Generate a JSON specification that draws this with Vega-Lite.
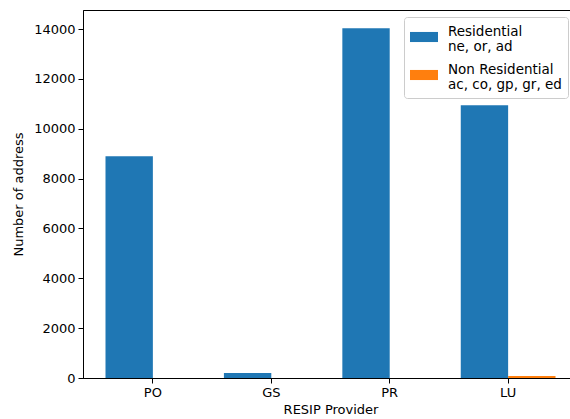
{
  "$schema": "https://vega.github.io/schema/vega-lite/v6.json",
  "width": 495,
  "height": 368,
  "autosize": {"type": "none"},
  "padding": {"left": 83, "top": 10, "right": 0, "bottom": 41},
  "config": {
    "font": "DejaVu Sans",
    "view": {"stroke": "black", "strokeWidth": 1},
    "axis": {
      "labelFont": "DejaVu Sans",
      "titleFont": "DejaVu Sans",
      "labelFontSize": 13,
      "titleFontSize": 13,
      "titleFontWeight": "normal",
      "labelColor": "black",
      "titleColor": "black",
      "domainColor": "black",
      "tickColor": "black",
      "tickSize": 5,
      "grid": false
    }
  },
  "data": {
    "values": [
      {"provider": "PO", "type": "Residential\nne, or, ad", "count": 8900},
      {"provider": "PO", "type": "Non Residential\nac, co, gp, gr, ed", "count": 0},
      {"provider": "GS", "type": "Residential\nne, or, ad", "count": 200},
      {"provider": "GS", "type": "Non Residential\nac, co, gp, gr, ed", "count": 0},
      {"provider": "PR", "type": "Residential\nne, or, ad", "count": 14030},
      {"provider": "PR", "type": "Non Residential\nac, co, gp, gr, ed", "count": 0},
      {"provider": "LU", "type": "Residential\nne, or, ad", "count": 10940},
      {"provider": "LU", "type": "Non Residential\nac, co, gp, gr, ed", "count": 80}
    ]
  },
  "mark": {"type": "bar"},
  "encoding": {
    "x": {
      "field": "provider",
      "type": "nominal",
      "sort": ["PO", "GS", "PR", "LU"],
      "scale": {"paddingInner": 0.2, "paddingOuter": 0.19},
      "axis": {"title": "RESIP Provider", "labelAngle": 0, "labelPadding": 3, "titlePadding": 4}
    },
    "xOffset": {
      "field": "type",
      "type": "nominal",
      "sort": ["Residential\nne, or, ad", "Non Residential\nac, co, gp, gr, ed"],
      "scale": {"paddingInner": 0, "paddingOuter": 0}
    },
    "y": {
      "field": "count",
      "type": "quantitative",
      "scale": {"domain": [0, 14763], "nice": false},
      "axis": {"title": "Number of address", "values": [0, 2000, 4000, 6000, 8000, 10000, 12000, 14000], "format": "d", "labelPadding": 3, "titlePadding": 8}
    },
    "color": {
      "field": "type",
      "type": "nominal",
      "sort": ["Residential\nne, or, ad", "Non Residential\nac, co, gp, gr, ed"],
      "scale": {"range": ["#1f77b4", "#ff7f0e"]},
      "legend": {
        "title": null,
        "orient": "none",
        "legendX": 321,
        "legendY": 7,
        "labelExpr": "split(datum.label, '\\n')",
        "labelFont": "DejaVu Sans",
        "labelFontSize": 13.5,
        "labelLineHeight": 13,
        "labelColor": "black",
        "labelLimit": 300,
        "labelOffset": 10,
        "labelBaseline": "middle",
        "symbolType": "M-1,-0.36L1,-0.36L1,0.36L-1,0.36Z",
        "symbolSize": 784,
        "symbolStrokeWidth": 0,
        "symbolOpacity": 1,
        "rowPadding": 7,
        "padding": 6,
        "strokeColor": "#cccccc",
        "fillColor": "white",
        "cornerRadius": 3,
        "encode": {"labels": {"update": {"dy": {"value": -5.5}}}}
      }
    }
  }
}
